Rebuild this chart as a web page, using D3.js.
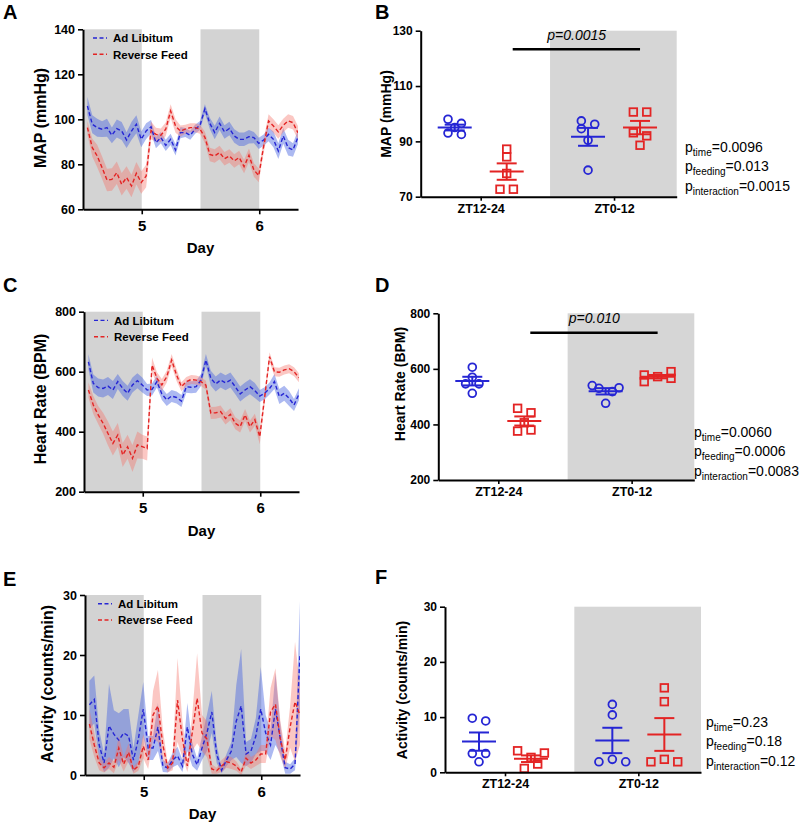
<!DOCTYPE html>
<html><head><meta charset="utf-8">
<script src="https://cdn.jsdelivr.net/npm/d3@7"></script>
<style>
body{margin:0;background:#fff}
svg text{font-family:"Liberation Sans",Arial,Helvetica,sans-serif;fill:#000}
</style>
</head><body>
<svg id="c" width="800" height="825"></svg>
<script>
// ---------------- DATA ----------------
// hourly samples (day units) for the time-course panels
const sampleDays = d3.range(44).map(k => 4.5 + (k + 0.9) / 24);
const darkPeriods = [[4.5, 5], [5.5, 6]];
const dayTicks = [5, 6];
const seriesNames = ["Ad Libitum", "Reverse Feed"];

// Panel A: MAP (mmHg), mean and SEM
const mapAdLib = [105.9,97.8,96.3,95.6,96.3,92.9,95.9,94.8,90.8,94.8,97.8,91.1,94.8,96.7,89.6,91.9,88.4,91.1,86.4,94.1,94.1,92.9,95.6,97.3,104.7,98.2,94.1,98.2,94.4,95.9,92.6,91.1,91.1,92.3,91.9,89.3,90.8,93.3,91.1,85.9,92.6,87.4,86.4,92.0];
const mapAdLibSem = [4,4,4,3.5,4,3.5,4,4,3.5,4,4,3.5,3.5,3,2.5,2.5,2.5,2.5,2.5,2.5,2,2,2,2,2,2.5,3,3,3,3,3,3,3,3,2.5,2.5,2.5,3,3.5,3.5,3.5,3.5,3,3];
const mapRev = [96.3,87.4,83.7,78.5,73.0,73.3,76.3,71.1,74.1,70.4,76.0,71.9,74.8,95.0,93.3,92.9,95.6,103.7,97.0,94.8,95.6,96.3,96.3,95.6,92.0,84.4,83.7,85.2,82.5,83.7,81.5,83.0,79.0,84.0,77.5,75.0,88.0,99.3,97.0,94.4,97.3,99.3,98.5,94.0];
const mapRevSem = [3,4,5,5,5,5,5,5,5,5,5,5,5,4,3,3,3,3,3,2.5,2,2,2,2,2.5,3,3,3,3,3,3,3,3,3,3,3,3,3,3,3,3,3,3,3];

// Panel C: Heart rate (BPM)
const hrAdLib = [633,561,547,544,552,539,567,544,528,556,570,556,539,541,567,526,506,519,514,502,550,548,550,572,639,578,559,572,563,572,550,526,539,550,537,519,528,544,567,517,528,511,489,525];
const hrAdLibSem = [25,30,30,30,30,30,25,25,25,25,25,25,20,20,20,20,20,20,20,20,20,20,20,20,20,25,25,25,25,25,25,25,25,25,25,20,20,20,25,25,25,25,20,20];
const hrRev = [539,489,456,428,394,361,389,322,350,311,356,350,344,622,578,556,583,639,589,550,567,574,572,567,555,462,463,467,444,458,428,417,456,417,440,383,515,650,600,598,606,610,600,580];
const hrRevSem = [25,30,30,35,40,40,40,40,40,45,45,40,40,25,20,20,20,20,20,15,15,15,15,15,15,20,20,20,20,20,20,20,20,20,20,25,20,15,15,15,15,15,15,15];

// Panel E: Activity (counts/min)
const actAdLib = [11.7,12.6,5,2,8.2,6.8,5.8,7,6.5,2.5,6,11,4.5,4.5,8,1.5,1.2,2.5,3.2,1.5,8,3.5,1.7,4.5,7,10.5,3.5,0.8,2.5,4,9,11.5,3.5,4,6.5,11,7,5,11,6,1.2,1.0,1.8,20];
const actAdLibSem = [4,4,2.5,1.5,7,4,4.5,4,4.5,2,4,4.5,2,2,4,1,0.8,1.2,1.5,1,4,2,1,2,3,3.5,1.5,0.5,1,1.5,6,9.5,2,2,3,7,3,2.5,6,2.5,1,0.8,1,9];
const actRev = [8.5,5,2,1.2,2,1.3,4.5,1.8,3.8,0.8,1.5,4.8,2.5,10,11.5,5,1.2,2,12.5,6,1.5,7,12.8,7,6,1,0.7,1.5,2.2,2,1.5,0.5,2.8,2,2.5,3.5,3.5,10.5,11.8,6,2.5,8,12.2,10];
const actRevSem = [2.5,2,1.2,0.8,1,1,2,1.2,1.5,0.6,0.8,2,1.5,4,6,2.5,0.8,1.2,7,3,1,3,7.5,3,3,0.8,0.5,1,1,1,0.8,0.5,1.2,1,1,1.5,1.5,4,6,3,1.5,3.5,10,5];

// Scatter panels: individual animals per period
const periods = ["ZT12-24", "ZT0-12"];
const mapPtsAdLib = [[98.0,96.5,95.0,93.0,92.5],[97.4,96.2,94.6,90.4,79.6]];
const mapPtsRev   = [[87.2,84.4,78.4,72.7,72.7],[100.6,100.6,93.1,92.0,88.6]];
const hrPtsAdLib  = [[606,570,546,546,512],[540,530,518,532,476]];
const hrPtsRev    = [[458,442,406,376,380],[578,554,572,590,566]];
const actPtsAdLib = [[9.8,9.3,3.4,3.4,1.9],[12.3,10.4,1.9,1.9,2.35]];
const actPtsRev   = [[3.9,2.7,3.5,1.5,0.7],[15.3,12.8,1.9,1.9,2.35]];

const statsB = [["time","0.0096"],["feeding","0.013"],["interaction","0.0015"]];
const statsD = [["time","0.0060"],["feeding","0.0006"],["interaction","0.0083"]];
const statsF = [["time","0.23"],["feeding","0.18"],["interaction","0.12"]];
const pairB = "p=0.0015";
const pairD = "p=0.010";

// ---------------- STYLE / LAYOUT ----------------
const GREY = "#d3d3d3";
const BLUE = "#2626d4";
const RED = "#e32424";
const BLUE_FILL = "rgba(70,100,225,0.45)";
const RED_FILL = "rgba(245,115,105,0.40)";
const svg = d3.select("#c");

function styleAxis(sel, fs) {
  sel.select(".domain").attr("stroke", "#000").attr("stroke-width", 2);
  sel.selectAll(".tick line").attr("stroke", "#000").attr("stroke-width", 1.6);
  sel.selectAll(".tick text").attr("font-size", fs).attr("font-weight", "bold")
     .attr("font-family", '"Liberation Sans",Arial,sans-serif').attr("fill", "#000");
}

function letter(t, x, y) {
  svg.append("text").attr("x", x).attr("y", y).attr("font-size", 20).attr("font-weight", "bold").text(t);
}

function linePanel(o) {
  const x = d3.scaleLinear().domain([4.5, 6.33]).range([o.x0, o.x0 + 1.83 * 117.5]);
  const y = d3.scaleLinear().domain(o.domain).range([o.yBot, o.yTop]);
  const g = svg.append("g");
  const id = "clip" + o.id;
  g.append("clipPath").attr("id", id).append("rect")
    .attr("x", o.x0).attr("y", o.yTop).attr("width", x(6.33) - o.x0).attr("height", o.yBot - o.yTop);
  darkPeriods.forEach(([a, b]) => g.append("rect").attr("x", x(a)).attr("y", y(o.domain[1]))
    .attr("width", x(b) - x(a)).attr("height", y(o.domain[0]) - y(o.domain[1])).attr("fill", GREY));
  const cg = g.append("g").attr("clip-path", `url(#${id})`);
  o.series.forEach(s => {
    const area = d3.area().x((d, i) => x(sampleDays[i]))
      .y0((d, i) => y(d - s.sem[i])).y1((d, i) => y(d + s.sem[i]));
    cg.append("path").datum(s.mean).attr("d", area).attr("fill", s.fill);
  });
  o.series.forEach(s => {
    const line = d3.line().x((d, i) => x(sampleDays[i])).y(d => y(d));
    cg.append("path").datum(s.mean).attr("d", line).attr("fill", "none")
      .attr("stroke", s.color).attr("stroke-width", 1.4).attr("stroke-dasharray", "4,2.5");
  });
  g.append("g").attr("transform", `translate(${o.x0},0)`)
    .call(d3.axisLeft(y).tickValues(o.ticks).tickSize(5).tickSizeOuter(0).tickPadding(3))
    .call(s => styleAxis(s, 12.5));
  g.append("g").attr("transform", `translate(0,${o.yBot})`)
    .call(d3.axisBottom(x).tickValues(dayTicks).tickFormat(d3.format("d")).tickSize(5).tickSizeOuter(0).tickPadding(6))
    .call(s => styleAxis(s, 15));
  g.append("text").attr("x", x(5.5)).attr("y", o.yBot + 44).attr("text-anchor", "middle")
    .attr("font-size", 15).attr("font-weight", "bold").text("Day");
  g.append("text").attr("transform", `translate(${o.ylx},${o.yly}) rotate(-90)`)
    .attr("text-anchor", "middle").attr("dominant-baseline", "central")
    .attr("font-size", 16).attr("font-weight", "bold").text(o.ylabel);
  // legend
  o.series.forEach((s, i) => {
    const ly = o.yTop + 8.7 + i * 16.3;
    g.append("line").attr("x1", o.x0 + 10 + o.ldx).attr("x2", o.x0 + 24 + o.ldx).attr("y1", ly).attr("y2", ly)
      .attr("stroke", s.color).attr("stroke-width", 1.4).attr("stroke-dasharray", "4,2.5");
    g.append("text").attr("x", o.x0 + 30 + o.ldx).attr("y", ly + 4.2).attr("font-size", 11.5)
      .attr("font-weight", "bold").text(seriesNames[i]);
  });
}

function statText(g, x, yb, stats) {
  stats.forEach(([sub, val], i) => {
    const t = g.append("text").attr("x", x).attr("y", yb + i * 19.5).attr("font-size", 14);
    t.append("tspan").text("p");
    t.append("tspan").attr("font-size", 10).attr("dy", 4).text(sub);
    t.append("tspan").attr("dy", -4).text("=" + val);
  });
}

function scatterPanel(o) {
  const x = d3.scaleLinear().domain([-0.45, 1.47]).range([o.x0, o.x0 + 256]);
  const y = d3.scaleLinear().domain(o.domain).range([o.yBot, o.yTop]);
  const g = svg.append("g");
  g.append("rect").attr("x", x(0.52)).attr("y", y(o.domain[1])).attr("width", x(1.47) - x(0.52))
    .attr("height", y(o.domain[0]) - y(o.domain[1])).attr("fill", "#d6d6d6");
  const groups = [
    {pts: o.blue, color: BLUE, shape: "circle", dx: -26, jit: o.jitBlue},
    {pts: o.red, color: RED, shape: "square", dx: 26, jit: o.jitRed}
  ];
  groups.forEach(gr => {
    gr.pts.forEach((vals, ci) => {
      const cx = x(ci) + gr.dx;
      const m = d3.mean(vals), sem = d3.deviation(vals) / Math.sqrt(vals.length);
      vals.forEach((v, j) => {
        const px = cx + gr.jit[ci][j] * 6.7, py = y(v);
        if (gr.shape === "circle")
          g.append("circle").attr("cx", px).attr("cy", py).attr("r", 3.9).attr("fill", "none")
            .attr("stroke", gr.color).attr("stroke-width", 1.8);
        else
          g.append("rect").attr("x", px - 3.8).attr("y", py - 3.8).attr("width", 7.6).attr("height", 7.6)
            .attr("fill", "none").attr("stroke", gr.color).attr("stroke-width", 1.8);
      });
      g.append("line").attr("x1", cx - 17).attr("x2", cx + 17).attr("y1", y(m)).attr("y2", y(m))
        .attr("stroke", gr.color).attr("stroke-width", 2);
      g.append("line").attr("x1", cx).attr("x2", cx).attr("y1", y(m - sem)).attr("y2", y(m + sem))
        .attr("stroke", gr.color).attr("stroke-width", 2);
      [m - sem, m + sem].forEach(v => g.append("line").attr("x1", cx - 10).attr("x2", cx + 10)
        .attr("y1", y(v)).attr("y2", y(v)).attr("stroke", gr.color).attr("stroke-width", 2));
    });
  });
  g.append("g").attr("transform", `translate(${o.x0},0)`)
    .call(d3.axisLeft(y).tickValues(o.ticks).tickSize(5).tickSizeOuter(0).tickPadding(3))
    .call(s => styleAxis(s, 12));
  g.append("g").attr("transform", `translate(0,${o.yBot})`)
    .call(d3.axisBottom(x).tickValues([0, 1]).tickFormat(i => periods[i]).tickSize(4).tickSizeOuter(0).tickPadding(3))
    .call(s => styleAxis(s, 12.5));
  g.append("text").attr("transform", `translate(${o.ylx},${o.yly}) rotate(-90)`)
    .attr("text-anchor", "middle").attr("dominant-baseline", "central")
    .attr("font-size", 14).attr("font-weight", "bold").text(o.ylabel);
  if (o.pair) {
    g.append("line").attr("x1", x(0.24)).attr("x2", x(1.195)).attr("y1", y(o.pairY)).attr("y2", y(o.pairY))
      .attr("stroke", "#000").attr("stroke-width", 2.5);
    g.append("text").attr("x", x(0.72)).attr("y", y(o.pairY) - 9.5).attr("text-anchor", "middle")
      .attr("font-size", 14).attr("font-style", "italic").text(o.pair);
  }
  statText(g, o.sx, o.sy, o.stats);
}

// ---------------- DRAW ----------------
letter("A", 3, 19); letter("B", 375, 19);
letter("C", 3, 292); letter("D", 375, 292);
letter("E", 3, 586); letter("F", 375, 584);

linePanel({id: "A", x0: 83, yTop: 29.3, yBot: 209.3, domain: [60, 140], ticks: [60, 80, 100, 120, 140],
  ylabel: "MAP (mmHg)", ylx: 40.5, yly: 118, ldx: 0,
  series: [{mean: mapAdLib, sem: mapAdLibSem, color: BLUE, fill: BLUE_FILL},
           {mean: mapRev, sem: mapRevSem, color: RED, fill: RED_FILL}]});
linePanel({id: "C", x0: 84, yTop: 311.7, yBot: 491.7, domain: [200, 800], ticks: [200, 400, 600, 800],
  ylabel: "Heart Rate (BPM)", ylx: 40.5, yly: 399, ldx: 0,
  series: [{mean: hrAdLib, sem: hrAdLibSem, color: BLUE, fill: BLUE_FILL},
           {mean: hrRev, sem: hrRevSem, color: RED, fill: RED_FILL}]});
linePanel({id: "E", x0: 85, yTop: 595, yBot: 775, domain: [0, 30], ticks: [0, 10, 20, 30],
  ylabel: "Activity (counts/min)", ylx: 47.5, yly: 684, ldx: 3,
  series: [{mean: actAdLib, sem: actAdLibSem, color: BLUE, fill: BLUE_FILL},
           {mean: actRev, sem: actRevSem, color: RED, fill: RED_FILL}]});

scatterPanel({x0: 420.7, yTop: 30.7, yBot: 196.7, domain: [70, 130], ticks: [70, 90, 110, 130],
  ylabel: "MAP (mmHg)", ylx: 386, yly: 114, blue: mapPtsAdLib, red: mapPtsRev,
  jitBlue: [[-1, 1, 0, -1, 1], [-1, 1, -1, 0, 0]], jitRed: [[0, 0, 0, -1, 1], [-1, 1, -1, 1, 0]],
  pair: pairB, pairY: 123.3, stats: statsB, sx: 685, sy: 151.7});
scatterPanel({x0: 438.3, yTop: 313.3, yBot: 480, domain: [200, 800], ticks: [200, 400, 600, 800],
  ylabel: "Heart Rate (BPM)", ylx: 400, yly: 384, blue: hrPtsAdLib, red: hrPtsRev,
  jitBlue: [[0, 0, -1, 1, 0], [-2, -1, 1, 2, 0]], jitRed: [[-1, 1, 0, -1, 1], [-2, -2, 0, 2, 2]],
  pair: pairD, pairY: 730, stats: statsD, sx: 694, sy: 436.7});
scatterPanel({x0: 445, yTop: 606.7, yBot: 772.3, domain: [0, 30], ticks: [0, 10, 20, 30],
  ylabel: "Activity (counts/min)", ylx: 402, yly: 690, blue: actPtsAdLib, red: actPtsRev,
  jitBlue: [[-1, 1, -1, 1, 0], [0, 0, -2, 2, 0]], jitRed: [[-2, 0, 2, 1, -1], [0, 0, -2, 2, 0]],
  pair: null, stats: statsF, sx: 706, sy: 726.7});
</script>
</body></html>
